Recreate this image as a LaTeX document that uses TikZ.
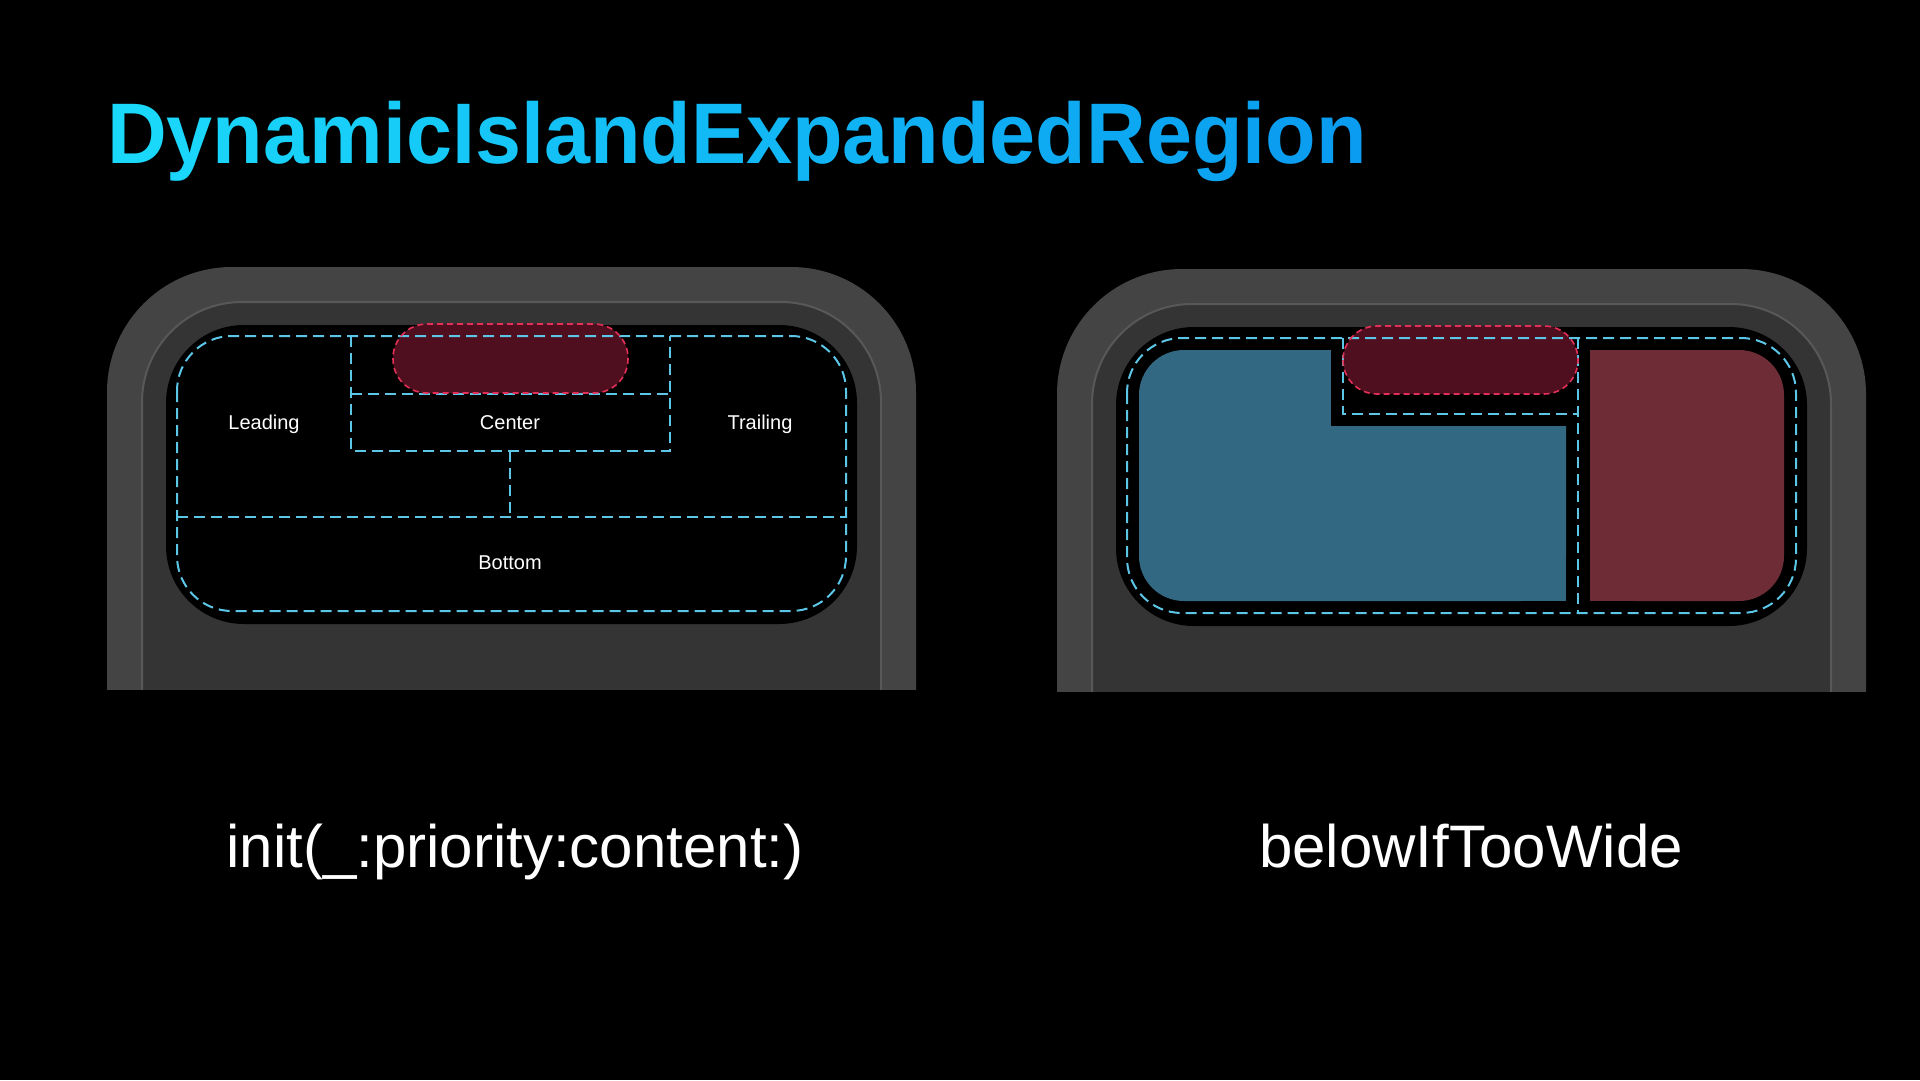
\documentclass[tikz,border=0pt]{standalone}
\usepackage{fontspec}
\setmainfont{Liberation Sans}

\definecolor{bodyband}{RGB}{68,68,68}
\definecolor{bodyinner}{RGB}{52,52,52}
\definecolor{bezelline}{RGB}{88,88,88}
\definecolor{regionblue}{RGB}{92,198,230}
\definecolor{islandline}{RGB}{226,48,88}
\definecolor{islandfill}{RGB}{80,15,30}
\definecolor{leadfill}{RGB}{50,104,130}
\definecolor{trailfill}{RGB}{110,44,54}
\definecolor{titlecyan}{RGB}{26,216,250}
\definecolor{titleblue}{RGB}{10,156,240}

\newcommand{\titlefont}{\fontsize{86}{90}\selectfont\bfseries}

% letter by letter colour ramp for the title
\newcount\rampcount
\def\rampletters#1{\rampcount=0 \ramploop#1\relax}
\def\ramploop#1{%
  \ifx#1\relax\else
    \pgfmathsetmacro\rampmix{100-\the\rampcount*100/26}%
    \textcolor{titlecyan!\rampmix!titleblue}{#1}%
    \advance\rampcount by 1
    \expandafter\ramploop
  \fi}

\tikzset{
  region/.style={draw=regionblue, line width=2pt, dash pattern=on 11pt off 6pt},
  islandedge/.style={draw=islandline, line width=1.6pt, dash pattern=on 6pt off 4pt, rounded corners=34pt},
  regionlabel/.style={text=white, font=\fontsize{20}{24}\selectfont, inner sep=0pt, anchor=base},
  captiontext/.style={text=white, font=\fontsize{60}{68}\selectfont, inner sep=0pt, anchor=base},
}

\begin{document}
\begin{tikzpicture}[x=1pt, y=-1pt]
  \fill[black] (0,0) rectangle (1920,1080);
  \useasboundingbox (0,0) rectangle (1920,1080);

  % title
  \node[anchor=base west, inner sep=0pt, font=\titlefont, xscale=0.962] (title) at (107,163)
    {\rampletters{DynamicIslandExpandedRegion}};

  % left phone
  \begin{scope}
    \clip (0,0) rectangle (1920,689);
    \fill[bodyband, rounded corners=125pt] (107,267) rectangle (916,900);
    \filldraw[fill=bodyinner, draw=bezelline, line width=2pt, rounded corners=100pt] (142,302) rectangle (881,900);
  \end{scope}
  \fill[black, rounded corners=78pt] (166,325) rectangle (857,624);
  \fill[islandfill, rounded corners=34pt] (393,324) rectangle (628,393);
  \draw[region, rounded corners=55pt] (177,336) rectangle (846,611);
  \draw[region] (351,336) -- (351,451) -- (670,451) -- (670,336);
  \draw[region] (351,394) -- (670,394);
  \draw[region] (510,451) -- (510,517);
  \draw[region] (177,517) -- (846,517);
  \draw[islandedge] (393,324) rectangle (628,393);
  \node[regionlabel] (leading) at (264,429) {Leading};
  \node[regionlabel] (center) at (510,429) {Center};
  \node[regionlabel] (trailing) at (760,429) {Trailing};
  \node[regionlabel] (bottom) at (510,569) {Bottom};

  % right phone
  \begin{scope}[shift={(950,2)}]
    \begin{scope}
      \clip (0,0) rectangle (970,689);
      \fill[bodyband, rounded corners=125pt] (107,267) rectangle (916,900);
      \filldraw[fill=bodyinner, draw=bezelline, line width=2pt, rounded corners=100pt] (142,302) rectangle (881,900);
    \end{scope}
    \fill[black, rounded corners=78pt] (166,325) rectangle (857,624);
    \fill[leadfill, rounded corners=45pt] (189,348) rectangle (616,599);
    \fill[leadfill] (566,549) rectangle (616,599);
    \fill[black] (381,346) rectangle (617,424);
    \fill[trailfill, rounded corners=45pt] (640,348) rectangle (834,599);
    \fill[trailfill] (640,348) rectangle (690,599);
    \fill[islandfill, rounded corners=34pt] (393,324) rectangle (628,392);
    \draw[region, rounded corners=55pt] (177,336) rectangle (846,611);
    \draw[region] (393,336) -- (393,412) -- (628,412);
    \draw[region] (628,336) -- (628,611);
    \draw[islandedge] (393,324) rectangle (628,392);
  \end{scope}

  % captions
  \node[captiontext] (initcap) at (515,867) {init(\_:priority:content:)};
  \node[captiontext] (belowcap) at (1471,867) {belowIfTooWide};
\end{tikzpicture}
\end{document}
